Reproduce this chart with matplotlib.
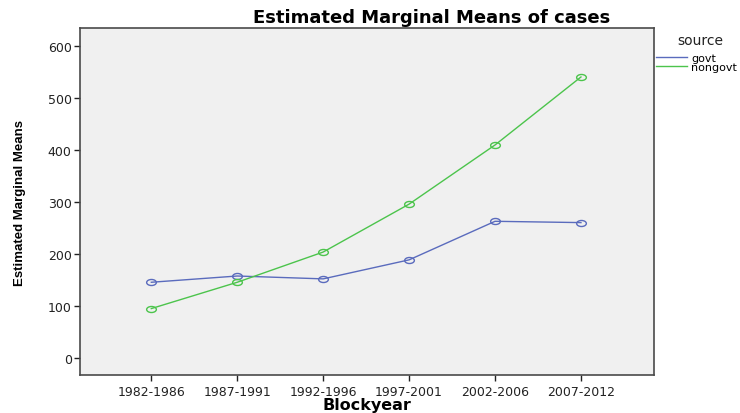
import matplotlib
matplotlib.use("Agg")
import matplotlib.pyplot as plt
from matplotlib.path import Path
from matplotlib.transforms import Affine2D
from matplotlib import font_manager

categories = ["1982-1986", "1987-1991", "1992-1996", "1997-2001", "2002-2006", "2007-2012"]
govt = [146, 158, 152.5, 189, 263, 260.5]
nongovt = [95.5, 146, 204, 296, 409.5, 540]
y_ticks = [0, 100, 200, 300, 400, 500, 600]

plt.rcParams["font.family"] = ["DejaVu Sans"]

installed = {f.name for f in font_manager.fontManager.ttflist}
if "Liberation Sans Narrow" in installed:
    ylab_font, ylab_size = "Liberation Sans Narrow", 11.5
else:
    ylab_font, ylab_size = "Liberation Sans", 9.5

# flattened circle, like the SPSS output
ellipse = Path.unit_circle().transformed(Affine2D().scale(1, 0.62))

fig = plt.figure(figsize=(7.4, 4.14), dpi=100)
ax = fig.add_axes([80 / 740, 1 - 376 / 414, 574 / 740, 347 / 414])
ax.set_facecolor("#f0f0f0")

x = list(range(len(categories)))
ax.plot(x, govt, color="#5a6bbd", lw=1.0, marker=ellipse, ms=7,
        mfc="none", mec="#5a6bbd", mew=1.0, label="govt")
ax.plot(x, nongovt, color="#4cc44c", lw=1.0, marker=ellipse, ms=7,
        mfc="none", mec="#4cc44c", mew=1.0, label="nongovt")

ax.set_xlim(-0.83, 5.85)
ax.set_ylim(-32, 634)
ax.set_xticks(x)
ax.set_xticklabels(categories)
ax.set_yticks(y_ticks)
ax.tick_params(axis="both", labelsize=9, colors="#222222", length=4, width=1)
ax.tick_params(axis="x", pad=3)
ax.tick_params(axis="y", pad=2)

for s in ax.spines.values():
    s.set_color("#4a4a4a")
    s.set_linewidth(1.2)

fig.text(432 / 740, 1 - 18 / 414, "Estimated Marginal Means of cases",
         ha="center", va="center", fontsize=13, fontweight="bold")
fig.text(367 / 740, 1 - 410 / 414, "Blockyear", ha="center", va="baseline",
         fontsize=11.5, fontweight="bold")
fig.text(20 / 740, 1 - 203 / 414, "Estimated Marginal Means", ha="center",
         va="center", rotation=90, fontsize=ylab_size, fontweight="bold",
         family=[ylab_font, "DejaVu Sans"])

fig.text(700 / 740, 1 - 41 / 414, "source", ha="center", va="center",
         fontsize=10, color="#222222")
leg = fig.legend(loc="upper left", bbox_to_anchor=(656 / 740, 1 - 54 / 414),
                 frameon=False, fontsize=8, handlelength=2.8,
                 handletextpad=0.35, labelspacing=-0.1, borderaxespad=0,
                 borderpad=0)
for h in leg.legend_handles:
    h.set_marker("")

fig.savefig("out.png", dpi=100)
